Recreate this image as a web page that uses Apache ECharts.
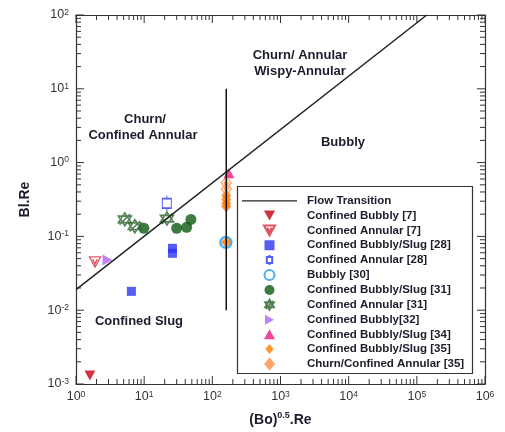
<!DOCTYPE html>
<html><head><meta charset="utf-8">
<script src="https://cdn.jsdelivr.net/npm/echarts@6/dist/echarts.min.js"></script>
<style>html,body{margin:0;padding:0;background:#fff}#chart{width:505px;height:432px}</style>
</head><body><div id="chart"></div>
<script>
// Decade tick positions of the two log axes
const xDecades = [1, 10, 100, 1000, 10000, 100000, 1000000];
const yDecades = [0.001, 0.01, 0.1, 1, 10, 100];

// Flow-regime boundaries
const flowTransition = [[1, 0.019], [140000, 100]];
const boundaryLine = [[160, 0.01], [160, 10]];

// Measured points: [(Bo)^0.5.Re, Bl.Re]
const confinedBubbly7 = [[1.6, 0.0013]];
const confinedAnnular7 = [[1.9, 0.045]];
const confinedBubblySlug28 = [[6.5, 0.018], [26, 0.069], [26, 0.059]];
const confinedAnnular28 = [[21.5, 0.28]];
const bubbly30 = [[158, 0.083]];
const confinedBubblySlug31 = [[9.9, 0.129], [30, 0.129], [42, 0.133], [48.5, 0.17]];
const confinedAnnular31 = [[5.2, 0.17], [7.3, 0.137], [21.6, 0.174]];
const confinedBubbly32 = [[2.9, 0.048]];
const confinedBubblySlug34 = [[175, 0.72]];
const confinedBubblySlug35 = [[160, 0.358], [160, 0.316], [160, 0.279], [160, 0.255], [160, 0.083]];
const churnConfinedAnnular35 = [[160, 0.53], [160, 0.44]];

// tick values: [value, isMajor]
function tickList(decades) {
  const out = decades.map(d => [d, 1]);
  for (let i = 0; i < decades.length - 1; i++) {
    for (let k = 2; k <= 9; k++) out.push([+(decades[i] * k).toPrecision(6), 0]);
  }
  return out;
}
const X_MIN = xDecades[0], X_MAX = xDecades[xDecades.length - 1];
const Y_MIN = yDecades[0], Y_MAX = yDecades[yDecades.length - 1];
const xTickData = tickList(xDecades).map(t => [t[0], Y_MIN, t[1]]);
const yTickData = tickList(yDecades).map(t => [X_MIN, t[0], t[1]]);

const FONT = '"Liberation Sans", Arial, sans-serif';
const AXIS_COLOR = '#333';
const TEXT_DARK = '#1c1c2c';
const MAJOR_LEN = 8, MINOR_LEN = 5;

function powLabel(v) {
  const e = Math.round(Math.log10(v));
  return '{b|10}{s|' + e + '}';
}
const labelRich = {
  b: { fontSize: 12.5, fontFamily: FONT, color: '#333', lineHeight: 14 },
  s: { fontSize: 8.5, fontFamily: FONT, color: '#333', verticalAlign: 'top', lineHeight: 9 }
};

function logAxis(kind, position, opts) {
  const isX = kind === 'x';
  return Object.assign({
    type: 'log',
    position: position,
    min: isX ? X_MIN : Y_MIN,
    max: isX ? X_MAX : Y_MAX,
    splitLine: { show: false },
    axisLine: { show: true, onZero: false, lineStyle: { color: AXIS_COLOR, width: 1.2 } },
    axisTick: { show: false },
    axisLabel: { show: false }
  }, opts || {});
}

// inward ticks on both opposite edges of the frame
function renderXTicks(params, api) {
  const len = api.value(2) ? MAJOR_LEN : MINOR_LEN;
  const b = api.coord([api.value(0), Y_MIN]);
  const t = api.coord([api.value(0), Y_MAX]);
  const style = { stroke: AXIS_COLOR, lineWidth: 1 };
  return { type: 'group', children: [
    { type: 'line', shape: { x1: b[0], y1: b[1], x2: b[0], y2: b[1] - len }, style: style },
    { type: 'line', shape: { x1: t[0], y1: t[1], x2: t[0], y2: t[1] + len }, style: style }
  ] };
}
function renderYTicks(params, api) {
  const len = api.value(2) ? MAJOR_LEN : MINOR_LEN;
  const l = api.coord([X_MIN, api.value(1)]);
  const r = api.coord([X_MAX, api.value(1)]);
  const style = { stroke: AXIS_COLOR, lineWidth: 1 };
  return { type: 'group', children: [
    { type: 'line', shape: { x1: l[0], y1: l[1], x2: l[0] + len, y2: l[1] }, style: style },
    { type: 'line', shape: { x1: r[0], y1: r[1], x2: r[0] - len, y2: r[1] }, style: style }
  ] };
}

// marker outlines
const diamondFill = 'path://M5 0 L10 6 L5 12 L0 6 Z';
const diamondOpen = 'path://M5 0 L10 6 L5 12 L0 6 Z M5 3.4 L7.2 6 L5 8.6 L2.8 6 Z';
const triDownOpen = 'path://M0 0 L10 0 L5 9 Z M3 2 L5 6 L7 2';
const squareFill = 'path://M0 0 L9 0 L9 9 L0 9 Z';
const squareBar = 'path://M0 3 L8 3 L8 12 L0 12 Z M4 0 L4 3 M4 12 L4 15';
const hexagramSlash = 'path://M5 0 L9.33 7.5 L0.67 7.5 Z M5 10 L0.67 2.5 L9.33 2.5 Z M1.5 9 L8.5 1';
const triDown = 'path://M0 0 L10 0 L5 9 Z';
const triUp = 'path://M5 0 L10 9 L0 9 Z';
const triRight = 'path://M0 0 L9 5 L0 10 Z';
const lineIcon = 'path://M0 0 L55 0 L55 1.4 L0 1.4 Z';

function scatter(name, data, symbol, size, color, open, extra) {
  return Object.assign({
    name: name, type: 'scatter', data: data, symbol: symbol, symbolSize: size,
    itemStyle: open ? { color: 'none', borderColor: color, borderWidth: 1.3 }
                    : { color: color, borderWidth: 0 }
  }, extra || {});
}

const chart = echarts.init(document.getElementById('chart'), null, { renderer: 'canvas' });
chart.setOption({
  animation: false,
  backgroundColor: '#fff',
  grid: { left: 76, right: 20, top: 15, bottom: 45, containLabel: false },
  xAxis: [
    logAxis('x', 'bottom', {
      name: '{n|(Bo)}{s|0.5}{n|.Re}', nameLocation: 'middle', nameGap: 27,
      nameTextStyle: { rich: {
        n: { fontSize: 14, fontWeight: 'bold', fontFamily: FONT, color: TEXT_DARK, lineHeight: 18 },
        s: { fontSize: 9, fontWeight: 'bold', fontFamily: FONT, color: TEXT_DARK, verticalAlign: 'top', lineHeight: 10 }
      } },
      axisLabel: { show: true, customValues: xDecades, margin: 6, formatter: powLabel, rich: labelRich }
    }),
    logAxis('x', 'top')
  ],
  yAxis: [
    logAxis('y', 'left', {
      name: 'Bl.Re', nameLocation: 'middle', nameGap: 44, nameRotate: 90,
      nameTextStyle: { fontSize: 14, fontWeight: 'bold', fontFamily: FONT, color: TEXT_DARK },
      axisLabel: { show: true, customValues: yDecades, margin: 7, formatter: powLabel, rich: labelRich }
    }),
    logAxis('y', 'right')
  ],
  legend: {
    orient: 'vertical', left: 242, top: 193.5, itemGap: 0,
    itemWidth: 55, itemHeight: 10, padding: 0,
    selectedMode: false,
    textStyle: { fontFamily: FONT, fontWeight: 'bold', fontSize: 11.5, color: TEXT_DARK,
      lineHeight: 14.7, padding: [0, 0, 0, 5] },
    data: [{ name: 'Flow Transition', icon: lineIcon }, 'Confined Bubbly [7]', 'Confined Annular [7]',
      'Confined Bubbly/Slug [28]', 'Confined Annular [28]', 'Bubbly [30]',
      'Confined Bubbly/Slug [31]', 'Confined Annular [31]', 'Confined Bubbly[32]',
      'Confined Bubbly/Slug [34]', 'Confined Bubbly/Slug [35]', 'Churn/Confined Annular [35]']
  },
  graphic: [
    { type: 'rect', shape: { x: 237.5, y: 186.5, width: 235, height: 187 },
      style: { fill: 'none', stroke: AXIS_COLOR, lineWidth: 1.2 }, z: 5 },
    { type: 'text', x: 300, y: 55, style: { text: 'Churn/ Annular', textAlign: 'center', textVerticalAlign: 'middle', font: 'bold 13px ' + FONT, fill: TEXT_DARK } },
    { type: 'text', x: 300, y: 71, style: { text: 'Wispy-Annular', textAlign: 'center', textVerticalAlign: 'middle', font: 'bold 13px ' + FONT, fill: TEXT_DARK } },
    { type: 'text', x: 145, y: 119, style: { text: 'Churn/', textAlign: 'center', textVerticalAlign: 'middle', font: 'bold 13px ' + FONT, fill: TEXT_DARK } },
    { type: 'text', x: 143, y: 135, style: { text: 'Confined Annular', textAlign: 'center', textVerticalAlign: 'middle', font: 'bold 13px ' + FONT, fill: TEXT_DARK } },
    { type: 'text', x: 343, y: 142, style: { text: 'Bubbly', textAlign: 'center', textVerticalAlign: 'middle', font: 'bold 13px ' + FONT, fill: TEXT_DARK } },
    { type: 'text', x: 139, y: 321, style: { text: 'Confined Slug', textAlign: 'center', textVerticalAlign: 'middle', font: 'bold 13px ' + FONT, fill: TEXT_DARK } }
  ],
  series: [
    { name: 'xTicks', type: 'custom', coordinateSystem: 'cartesian2d', data: xTickData,
      renderItem: renderXTicks, clip: false, silent: true },
    { name: 'yTicks', type: 'custom', coordinateSystem: 'cartesian2d', data: yTickData,
      renderItem: renderYTicks, clip: false, silent: true },
    { name: 'Flow Transition', type: 'line', data: flowTransition, symbol: 'none',
      lineStyle: { color: '#222', width: 1.5 }, itemStyle: { color: '#222' } },
    { name: 'boundary', type: 'line', data: boundaryLine, symbol: 'none',
      lineStyle: { color: '#111', width: 1.5 } },
    scatter('Confined Bubbly [7]', confinedBubbly7, triDown, [11, 10], '#c00010', false),
    scatter('Confined Annular [7]', confinedAnnular7, triDownOpen, [11, 10], '#d42a3a', true),
    scatter('Confined Bubbly/Slug [28]', confinedBubblySlug28, squareFill, 9, '#2a35f0', false),
    scatter('Confined Annular [28]', confinedAnnular28, squareBar, [9, 16], '#2a35f0', true),
    scatter('Bubbly [30]', bubbly30, 'circle', 11, '#1e9cf0', true,
      { itemStyle: { color: 'none', borderColor: '#1e9cf0', borderWidth: 2.4 } }),
    scatter('Confined Bubbly/Slug [31]', confinedBubblySlug31, 'circle', 11, '#0c5a12', false),
    scatter('Confined Annular [31]', confinedAnnular31, hexagramSlash, 13, '#2a632a', true,
      { itemStyle: { color: 'none', borderColor: '#2a632a', borderWidth: 1.6 } }),
    scatter('Confined Bubbly[32]', confinedBubbly32, triRight, [10, 11], '#b060f5', false),
    scatter('Confined Bubbly/Slug [34]', confinedBubblySlug34, triUp, [11, 10], '#f0167f', false),
    scatter('Confined Bubbly/Slug [35]', confinedBubblySlug35, diamondFill, [10, 12], '#ff7a00', false),
    scatter('Churn/Confined Annular [35]', churnConfinedAnnular35, diamondOpen, [10, 12], '#ff8c40', true)
  ]
});
</script>
</body></html>
